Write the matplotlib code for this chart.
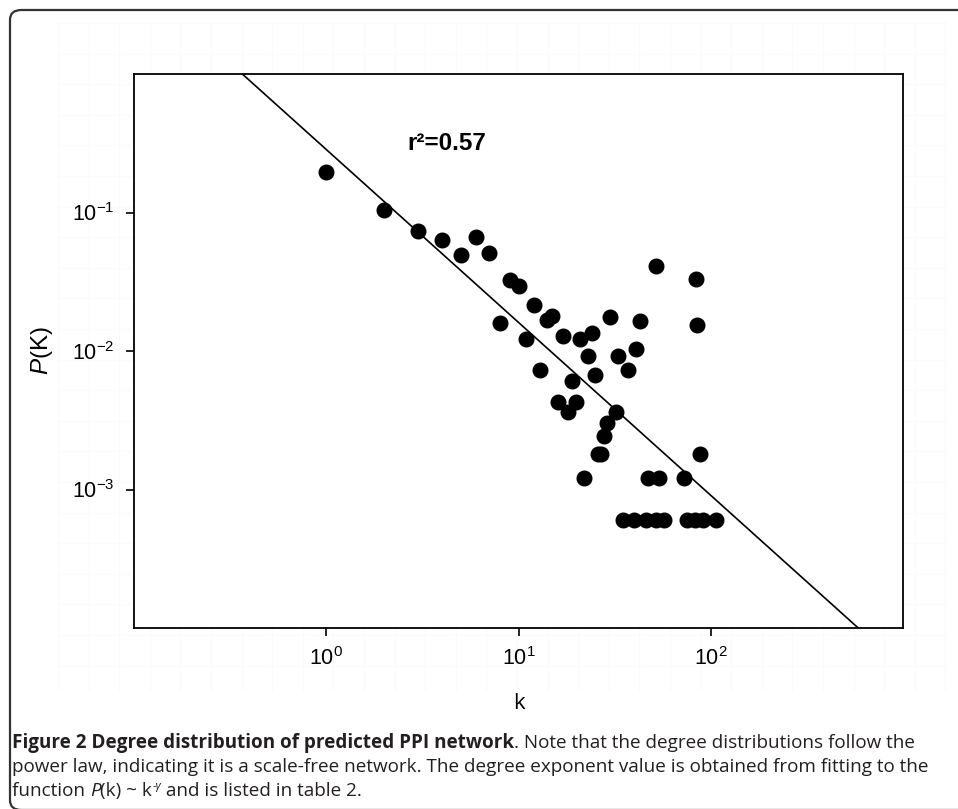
import numpy as np
import matplotlib
matplotlib.use("Agg")
import matplotlib.pyplot as plt
from matplotlib.patches import FancyBboxPatch

plt.rcParams['font.family'] = ['Liberation Sans', 'DejaVu Sans']
plt.rcParams['mathtext.fontset'] = 'custom'
plt.rcParams['mathtext.rm'] = 'Liberation Sans'
plt.rcParams['mathtext.it'] = 'Liberation Sans:italic'
plt.rcParams['mathtext.bf'] = 'Liberation Sans:bold'

# Grado k y probabilidad P(k)
k = [1, 2, 3, 4, 5, 6, 7, 8, 9, 10,
     11, 12, 13, 14, 15, 16, 17, 18, 19, 20,
     21, 22, 23, 24, 25, 26, 27, 28, 29, 30,
     32, 33, 35, 37, 40, 41, 43, 46, 47, 52,
     52, 54, 57, 73, 75, 83, 84, 85, 88, 91, 107]
pk = [0.197, 0.104, 0.0738, 0.063, 0.049, 0.066, 0.0506, 0.0158, 0.0323, 0.0297,
      0.0122, 0.0215, 0.0073, 0.0167, 0.0179, 0.00428, 0.0128, 0.00362, 0.00607, 0.00428,
      0.0122, 0.00121, 0.00916, 0.0134, 0.00667, 0.00181, 0.00181, 0.00242, 0.0030, 0.0176,
      0.00362, 0.00916, 0.000604, 0.0073, 0.000604, 0.0103, 0.0164, 0.000604, 0.00121, 0.000604,
      0.0409, 0.00121, 0.000604, 0.00121, 0.000604, 0.000604, 0.033, 0.0153, 0.00181, 0.000604, 0.000604]

# Extremos de la recta de ajuste (ley de potencia)
fit_k = [0.366, 585]
fit_p = [1.0, 1e-4]

x_ticks = [1, 10, 100]
y_ticks = [1e-3, 1e-2, 1e-1]

W, H = 958, 809
fig = plt.figure(figsize=(W / 100, H / 100), dpi=100)

# Grilla muy tenue de fondo
for gx in np.arange(58, 946, 30.6):
    fig.add_artist(plt.Line2D([gx / W, gx / W], [1 - 23 / H, 1 - 690 / H],
                              color='#fbfbfb', lw=0.8, zorder=0))
for gy in np.arange(23, 691, 30.6):
    fig.add_artist(plt.Line2D([58 / W, 945 / W], [1 - gy / H, 1 - gy / H],
                              color='#fbfbfb', lw=0.8, zorder=0))

# Marco redondeado
box = FancyBboxPatch((10 / W, 1 - 810 / H), 980 / W, 800 / H,
                     boxstyle="round,pad=0,rounding_size=0.012",
                     transform=fig.transFigure, fill=False,
                     ec='#333333', lw=1.6, clip_on=False)
fig.add_artist(box)

ax = fig.add_axes([134 / W, 1 - 628 / H, (903 - 134) / W, (628 - 74) / H])
ax.loglog(fit_k, fit_p, color='black', lw=1.2)
ax.plot(k, pk, 'o', color='black', ms=10.5, mec='black')
ax.set_xlim(0.1, 1000)
ax.set_ylim(1e-4, 1)
ax.set_xticks(x_ticks)
ax.set_yticks(y_ticks)
ax.minorticks_off()
ax.tick_params(direction='out', length=6, width=1.2, labelsize=15.5, pad=8)
for s in ax.spines.values():
    s.set_linewidth(1.3)

ax.set_ylabel('$P$(K)', fontsize=17.5, labelpad=12)
ax.set_xlabel('k', fontsize=16, labelpad=16, family=['Open Sans', 'DejaVu Sans'])
ax.text(0.356, 0.862, 'r²=0.57', transform=ax.transAxes, fontsize=17.5,
        fontweight='bold', va='baseline')

# Leyenda de la figura en varias partes (negrita / normal / cursiva)
cap_font = ['Open Sans', 'DejaVu Sans']
cap_size = 13.6
cap_color = '#231f20'
renderer = fig.canvas.get_renderer()


def put_runs(x, y, runs):
    for txt, weight, style, dy, size in runs:
        t = fig.text(x / W, 1 - (y - dy) / H, txt, fontsize=size, fontweight=weight,
                     fontstyle=style, family=cap_font, color=cap_color, va='baseline')
        x += t.get_window_extent(renderer).width


put_runs(12, 748, [
    ('Figure 2 Degree distribution of predicted PPI network', 'bold', 'normal', 0, cap_size),
    ('. Note that the degree distributions follow the', 'normal', 'normal', 0, cap_size),
])
put_runs(12, 772, [
    ('power law, indicating it is a scale-free network. The degree exponent value is obtained from fitting to the',
     'normal', 'normal', 0, cap_size),
])
put_runs(12, 796, [
    ('function ', 'normal', 'normal', 0, cap_size),
    ('P', 'normal', 'italic', 0, cap_size),
    ('(k) ~ k', 'normal', 'normal', 0, cap_size),
    ('-γ', 'normal', 'italic', 7, cap_size * 0.6),
    (' and is listed in table 2.', 'normal', 'normal', 0, cap_size),
])

fig.savefig('out.png', dpi=100)
